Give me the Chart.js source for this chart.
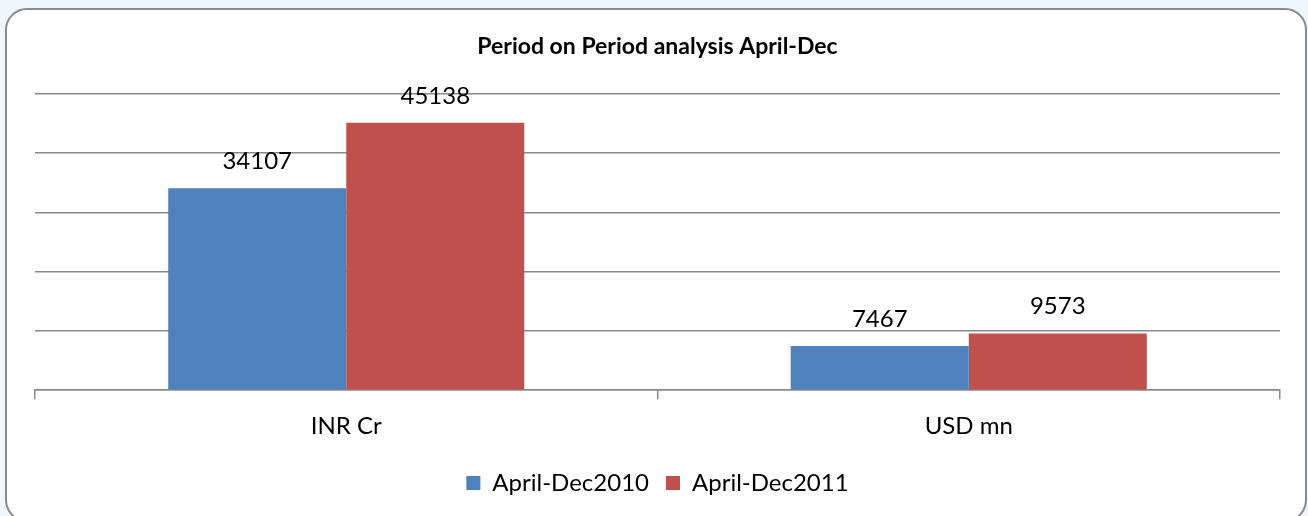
<!DOCTYPE html>
<html>
<head>
<meta charset="utf-8">
<script src="https://cdn.jsdelivr.net/npm/chart.js@4.4.1/dist/chart.umd.min.js"></script>
<style>
  html, body { margin: 0; padding: 0; background: #eef7fd; overflow: hidden; }
  #wrap { position: relative; width: 1308px; height: 516px; }
  #frame { position: absolute; left: 5px; top: 8px; width: 1298px; height: 510px;
           border: 2px solid #8a8a8a; border-radius: 22px; background: #ffffff; box-sizing: content-box; }
  #c { position: absolute; left: 0; top: 0; }
</style>
</head>
<body>
<div id="wrap">
  <div id="frame"></div>
  <canvas id="c" width="1308" height="516"></canvas>
</div>
<script>
const categories = ["INR Cr", "USD mn"];
const series2010 = [34107, 7467];
const series2011 = [45138, 9573];
const seriesNames = ["April-Dec2010", "April-Dec2011"];
const yTicks = [0, 10000, 20000, 30000, 40000, 50000];
const chartTitle = "Period on Period analysis April-Dec";

const FONT = "Lato, 'Open Sans', 'Noto Sans', sans-serif";

const valueLabels = {
  id: 'valueLabels',
  afterDatasetsDraw(chart) {
    const ctx = chart.ctx;
    ctx.save();
    ctx.font = "24px " + FONT;
    ctx.fillStyle = "#000000";
    ctx.textAlign = "center";
    ctx.textBaseline = "alphabetic";
    chart.data.datasets.forEach((ds, i) => {
      const meta = chart.getDatasetMeta(i);
      meta.data.forEach((bar, j) => {
        ctx.fillText(String(ds.data[j]), bar.x, bar.y - 19);
      });
    });
    ctx.restore();
  }
};

new Chart(document.getElementById('c'), {
  type: 'bar',
  data: {
    labels: categories,
    datasets: [
      { label: seriesNames[0], data: series2010, backgroundColor: '#4F81BD', borderWidth: 0,
        categoryPercentage: 0.572, barPercentage: 1.0 },
      { label: seriesNames[1], data: series2011, backgroundColor: '#C0504D', borderWidth: 0,
        categoryPercentage: 0.572, barPercentage: 1.0 }
    ]
  },
  options: {
    responsive: false,
    animation: false,
    layout: { padding: { left: 35, right: 28, top: 0, bottom: 11 } },
    plugins: {
      title: {
        display: true, text: chartTitle, color: '#000000',
        font: { family: FONT, size: 23, weight: 'bold', lineHeight: 1.2 },
        padding: { top: 33, bottom: 33.4 }
      },
      legend: {
        display: true, position: 'bottom',
        labels: {
          color: '#000000', boxWidth: 14, boxHeight: 14, padding: 17,
          font: { family: FONT, size: 24 }
        }
      },
      tooltip: { enabled: false }
    },
    scales: {
      x: {
        offset: true,
        grid: { display: true, offset: true, drawOnChartArea: false, drawTicks: true,
                tickLength: 9, color: '#8a8a8a', lineWidth: 1.5 },
        border: { display: true, color: '#8a8a8a', width: 1.5 },
        ticks: { color: '#000000', font: { family: FONT, size: 24 }, padding: 13 }
      },
      y: {
        min: 0, max: 50000,
        afterBuildTicks(axis) { axis.ticks = yTicks.map(v => ({ value: v })); },
        grid: { display: true, drawTicks: false, color: '#8a8a8a', lineWidth: 1.5 },
        border: { display: false },
        ticks: { display: false }
      }
    }
  },
  plugins: [valueLabels]
});
</script>
</body>
</html>
